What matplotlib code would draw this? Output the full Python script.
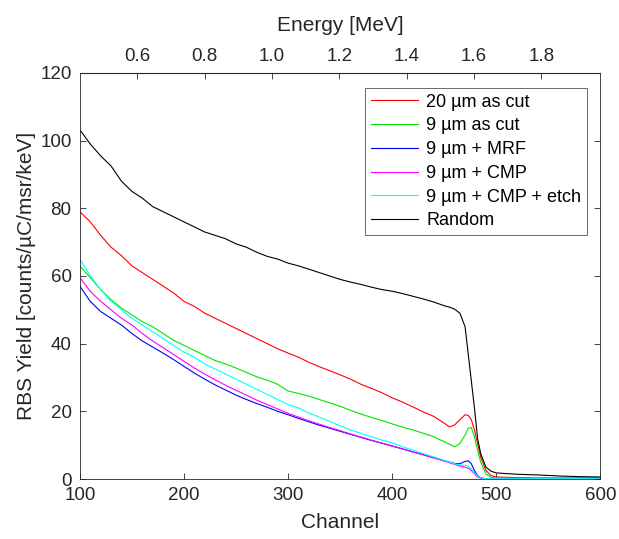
import numpy as np
import matplotlib
matplotlib.use("Agg")
import matplotlib.pyplot as plt
from matplotlib.ticker import FormatStrFormatter

plt.rcParams["font.family"] = ["Liberation Sans", "DejaVu Sans"]

# channel grid (denser around the surface edge)
channels = [100, 110, 120, 130, 140, 150, 160, 170, 180, 190,
            200, 210, 220, 230, 240, 250, 260, 270, 280, 290,
            300, 310, 320, 330, 340, 350, 360, 370, 380, 390,
            400, 410, 420, 430, 440, 450, 455, 460, 465, 470,
            473, 476, 479, 482, 485, 490, 495, 500, 520, 540,
            560, 580, 600]

y_20um_cut = [79, 76, 72, 68.5, 66, 63, 61, 59, 57, 55,
              52.5, 51, 49, 47.5, 46, 44.5, 43, 41.5, 40, 38.5,
              37.2, 36, 34.5, 33.2, 32, 30.8, 29.5, 28, 26.8, 25.5,
              24, 22.7, 21.3, 19.8, 18.5, 16.5, 15.4, 16, 17.5, 19,
              18.8, 17.5, 14.5, 10.5, 6.5, 2.5, 1, 0.6, 0.4, 0.3,
              0.3, 0.3, 0.3]

y_9um_cut = [63, 59.5, 56, 53, 50.5, 48.5, 46.5, 45, 43, 41,
             39.5, 38, 36.5, 35, 34, 32.8, 31.5, 30.2, 29.2, 28,
             26, 25.3, 24.5, 23.5, 22.5, 21.5, 20.3, 19.2, 18.2, 17.3,
             16.3, 15.3, 14.5, 13.5, 12.5, 11, 10.3, 9.5, 10.5, 13,
             15, 15.2, 12.5, 8.5, 5, 1.5, 0.5, 0.3, 0.2, 0.2,
             0.2, 0.2, 0.2]

y_9um_mrf = [57, 52.5, 49.5, 47.5, 45.5, 43, 40.8, 39, 37.2, 35.3,
             33.3, 31.3, 29.5, 27.8, 26.3, 24.8, 23.5, 22.3, 21.2, 20,
             19, 17.9, 16.9, 15.9, 15, 14.1, 13.2, 12.3, 11.4, 10.6,
             9.7, 8.9, 8, 7.2, 6.3, 5.4, 5, 4.6, 4.5, 5.2,
             5.4, 4.5, 2.5, 1, 0.3, 0.1, 0.1, 0.1, 0.1, 0.1,
             0.1, 0.1, 0.1]

y_9um_cmp = [59.5, 55.5, 52.5, 50, 47.5, 45.5, 43, 40.8, 38.8, 36.8,
             34.8, 32.8, 31, 29.3, 27.7, 26.2, 24.8, 23.3, 22, 20.7,
             19.4, 18.3, 17.2, 16.2, 15.2, 14.3, 13.3, 12.4, 11.5, 10.6,
             9.8, 8.9, 8, 7.1, 6.2, 5.3, 4.8, 4.3, 3.8, 3.5,
             3.2, 2.5, 1.5, 0.6, 0.2, 0.1, 0.1, 0.1, 0.1, 0.1,
             0.1, 0.1, 0.1]

y_9um_cmp_etch = [65, 60, 56, 52.5, 50, 47.5, 45.5, 43.5, 41.5, 39.5,
                  37.5, 36, 34, 32.5, 31, 29.5, 28, 26.5, 25, 23.5,
                  22, 21, 19.5, 18.3, 17, 15.7, 14.5, 13.5, 12.5, 11.5,
                  10.7, 9.5, 8.5, 7.5, 6.5, 5.5, 5, 4.5, 4.2, 4,
                  3.8, 3, 1.8, 0.8, 0.3, 0.1, 0.1, 0.1, 0.1, 0.1,
                  0.1, 0.1, 0.1]

y_random = [103.2, 99, 95.5, 92.5, 88, 85, 83, 80.5, 79, 77.5,
            76, 74.5, 73, 72, 71, 69.5, 68.5, 67, 65.8, 65,
            63.8, 63, 62, 61, 60, 59, 58.2, 57.5, 56.7, 56,
            55.5, 54.8, 54, 53.2, 52.3, 51.2, 50.8, 50.2, 49, 45,
            37, 29, 21, 12, 7.5, 3.5, 2.3, 1.8, 1.4, 1.2,
            0.9, 0.7, 0.6]

series = [
    ("20 µm as cut", y_20um_cut, "#ff0000"),
    ("9 µm as cut", y_9um_cut, "#00e600"),
    ("9 µm + MRF", y_9um_mrf, "#0000ff"),
    ("9 µm + CMP", y_9um_cmp, "#ff00ff"),
    ("9 µm + CMP + etch", y_9um_cmp_etch, "#00ffff"),
    ("Random", y_random, "#000000"),
]

# energy calibration (MeV per channel)
gain = 0.0030905
offset = 0.12067


def ch2e(ch):
    return gain * np.asarray(ch) + offset


def e2ch(e):
    return (np.asarray(e) - offset) / gain


axcol = "#262626"
fig = plt.figure(figsize=(6.19, 5.39), dpi=100)
ax = fig.add_axes([0.129, 0.1113, 0.841, 0.7533])

for label, vals, col in series:
    ax.plot(channels, vals, color=col, linewidth=0.8, label=label)

ax.set_xlim(100, 600)
ax.set_ylim(0, 120)
ax.set_xticks([100, 200, 300, 400, 500, 600])
ax.set_yticks([0, 20, 40, 60, 80, 100, 120])
ax.tick_params(axis="both", direction="in", length=4, width=0.6, colors=axcol,
               labelsize=13.5, right=True)
ax.tick_params(axis="x", pad=6)
ax.tick_params(axis="y", pad=6)
for sp in ax.spines.values():
    sp.set_color(axcol)
    sp.set_linewidth(0.6)
ax.set_xlabel("Channel", fontsize=15, color=axcol, labelpad=6)
ax.set_ylabel("RBS Yield [counts/µC/msr/keV]", fontsize=15, color=axcol, labelpad=3)

top = ax.secondary_xaxis("top", functions=(ch2e, e2ch))
top.set_xticks([0.6, 0.8, 1.0, 1.2, 1.4, 1.6, 1.8])
top.xaxis.set_major_formatter(FormatStrFormatter("%.1f"))
top.tick_params(direction="in", length=4, width=0.6, colors=axcol,
                labelsize=13.5, pad=6)
top.spines["top"].set_color(axcol)
top.set_xlabel("Energy [MeV]", fontsize=15, color=axcol, labelpad=12)

leg = ax.legend(loc="upper right", bbox_to_anchor=(0.974, 0.963), borderaxespad=0,
                fontsize=13, frameon=True, fancybox=False, handlelength=2.6,
                labelspacing=0.37, borderpad=0.32, handletextpad=0.45)
leg.get_frame().set_edgecolor(axcol)
leg.get_frame().set_linewidth(0.6)

fig.savefig("out.png", dpi=100)
